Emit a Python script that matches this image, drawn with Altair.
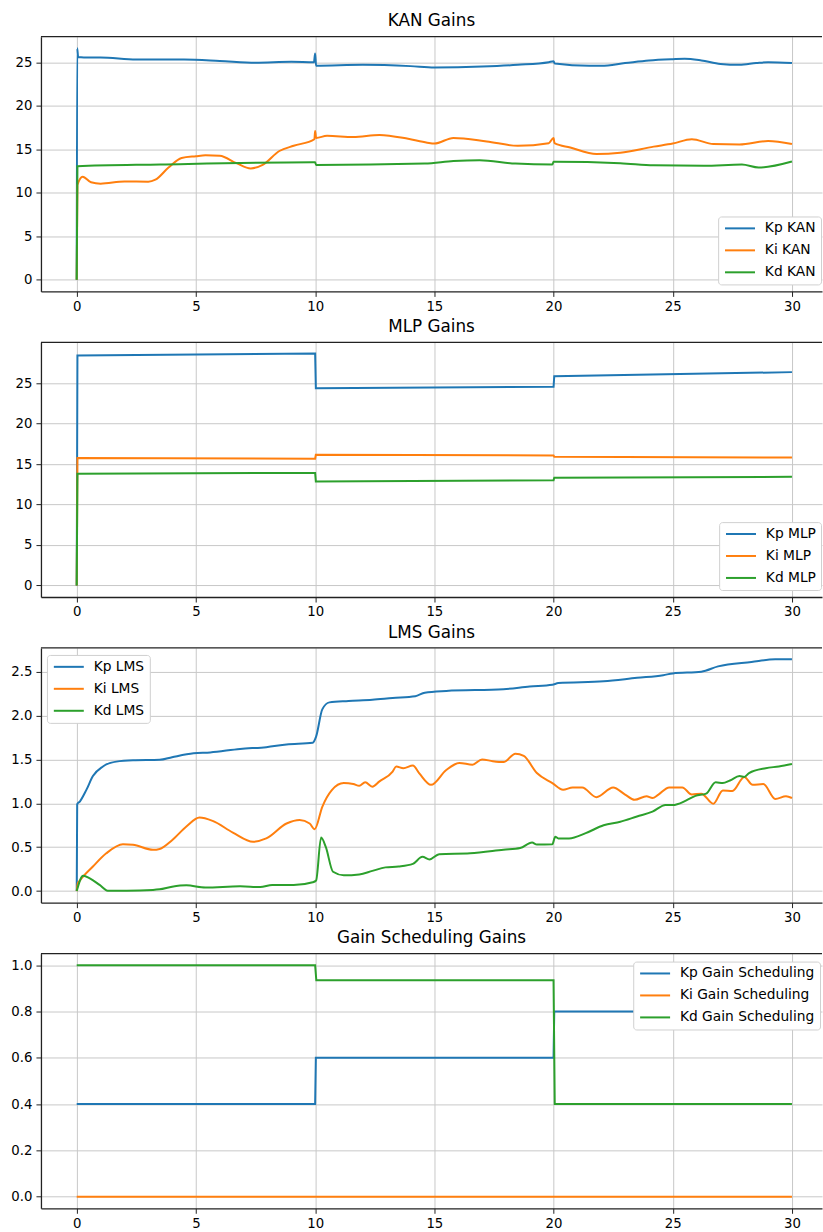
import altair as alt
import pandas as pd

# ---------------- data ----------------
X_TICKS = [0, 5, 10, 15, 20, 25, 30]

KAN_NAMES = ["Kp KAN", "Ki KAN", "Kd KAN"]
KAN_KP = [(0, 0), (0.02, 26.6), (0.06, 25.6), (0.3, 25.55), (1, 25.55), (2.5, 25.3), (4.5, 25.3),
          (6, 25.15), (7.5, 24.95), (9, 25.05), (9.95, 25.0), (10.0, 26.0), (10.04, 24.6),
          (12, 24.7), (14, 24.55), (15, 24.4), (17, 24.5), (18.5, 24.7), (19.8, 25.0), (20.0, 25.1),
          (20.05, 24.85), (21.5, 24.6), (22, 24.6), (23, 24.9), (24, 25.2), (25, 25.35), (25.5, 25.4),
          (26.2, 25.2), (27, 24.8), (27.8, 24.7), (28.5, 24.9), (29, 25.0), (30, 24.9)]
KAN_KI = [(0, 0), (0.03, 10.9), (0.25, 11.85), (0.6, 11.2), (1.0, 11.05), (2.0, 11.3), (3.0, 11.27),
          (3.3, 11.5), (3.85, 12.9), (4.4, 14.0), (5.0, 14.2), (5.4, 14.3), (6.0, 14.25), (6.7, 13.4),
          (7.3, 12.8), (7.8, 13.2), (8.5, 14.8), (9.1, 15.4), (9.97, 16.15), (10.0, 17.1), (10.04, 16.3),
          (10.5, 16.55), (11.6, 16.4), (12.7, 16.65), (13.9, 16.2), (14.7, 15.75), (15.0, 15.65),
          (15.8, 16.3), (17.2, 15.9), (18.5, 15.4), (19.8, 15.7), (20.0, 16.3), (20.04, 15.7),
          (20.7, 15.2), (21.8, 14.45), (22.8, 14.6), (24.2, 15.3), (25.0, 15.65), (25.8, 16.15),
          (26.7, 15.6), (27.8, 15.55), (29.0, 15.95), (30.0, 15.6)]
KAN_KD = [(0, 0), (0.03, 13.05), (3.5, 13.25), (9.9, 13.5), (10.0, 13.5), (10.04, 13.2), (14.6, 13.35),
          (15.8, 13.65), (16.9, 13.75), (18.4, 13.35), (19.95, 13.25), (20.0, 13.55), (20.04, 13.55),
          (22.8, 13.4), (24.2, 13.15), (26.3, 13.1), (27.9, 13.25), (28.6, 12.9), (30, 13.6)]

MLP_NAMES = ["Kp MLP", "Ki MLP", "Kd MLP"]
MLP_KP = [(0, 0), (0.03, 28.4), (10.0, 28.65), (10.03, 24.35), (20.0, 24.55), (20.03, 25.85), (30, 26.35)]
MLP_KI = [(0, 0), (0.03, 15.75), (10.0, 15.65), (10.03, 16.15), (20.0, 16.05), (20.03, 15.9), (30, 15.8)]
MLP_KD = [(0, 0), (0.03, 13.8), (10.0, 13.9), (10.03, 12.85), (20.0, 12.98), (20.03, 13.3), (30, 13.42)]

LMS_NAMES = ["Kp LMS", "Ki LMS", "Kd LMS"]
LMS_KP = [(0, 0), (0.02, 0.99), (0.13, 1.02), (0.4, 1.15), (0.68, 1.31), (1.1, 1.42), (1.66, 1.475),
          (2.36, 1.49), (3.48, 1.495), (4.0, 1.525), (4.9, 1.57), (5.6, 1.58), (6.85, 1.62), (7.95, 1.64),
          (8.8, 1.67), (9.9, 1.69), (10.04, 1.76), (10.3, 2.07), (10.6, 2.15), (11.4, 2.165), (12.4, 2.18),
          (13.25, 2.2), (14.2, 2.22), (14.6, 2.26), (15.5, 2.28), (17.9, 2.3), (19.0, 2.33), (19.95, 2.35),
          (20.2, 2.37), (22.1, 2.39), (23.5, 2.43), (24.6, 2.46), (25.0, 2.48), (26.2, 2.5), (26.9, 2.56),
          (28.3, 2.61), (29.3, 2.64), (30, 2.64)]
LMS_KI = [(0, 0.0), (0.05, 0.09), (0.13, 0.12), (0.68, 0.28), (1.24, 0.43), (1.94, 0.533), (2.36, 0.527),
          (3.2, 0.47), (3.48, 0.48), (4.0, 0.58), (4.6, 0.735), (5.15, 0.838), (5.7, 0.8), (6.55, 0.667),
          (7.4, 0.563), (7.95, 0.6), (8.8, 0.77), (9.35, 0.81), (9.77, 0.77), (9.98, 0.705), (10.3, 0.96),
          (10.7, 1.15), (11.2, 1.23), (11.6, 1.22), (11.85, 1.2), (12.1, 1.24), (12.4, 1.19), (12.7, 1.25),
          (13.25, 1.36), (13.4, 1.42), (13.7, 1.40), (14.1, 1.43), (14.37, 1.34), (14.86, 1.21),
          (15.5, 1.38), (16.05, 1.46), (16.6, 1.44), (17.0, 1.5), (17.45, 1.48), (17.9, 1.47),
          (18.4, 1.566), (18.75, 1.54), (19.3, 1.345), (19.95, 1.23), (20.4, 1.154), (20.8, 1.18),
          (21.2, 1.18), (21.8, 1.07), (22.5, 1.18), (23.0, 1.1), (23.4, 1.04), (23.9, 1.08), (24.15, 1.06),
          (24.4, 1.1), (24.85, 1.18), (25.4, 1.18), (25.8, 1.1), (26.2, 1.11), (26.7, 0.995), (27.1, 1.146),
          (27.5, 1.14), (28.0, 1.3), (28.35, 1.21), (28.8, 1.22), (29.3, 1.05), (29.75, 1.08), (30, 1.06)]
LMS_KD = [(0, 0), (0.27, 0.175), (0.55, 0.145), (0.96, 0.07), (1.3, 0.005), (2.1, 0.005), (3.2, 0.013),
          (3.48, 0.02), (4.0, 0.05), (4.6, 0.066), (5.4, 0.04), (6.85, 0.055), (7.7, 0.045), (8.2, 0.07),
          (9.1, 0.068), (9.9, 0.1), (10.04, 0.12), (10.25, 0.61), (10.45, 0.5), (10.75, 0.22), (11.2, 0.18),
          (11.85, 0.19), (12.4, 0.23), (12.95, 0.27), (13.5, 0.28), (14.1, 0.31), (14.5, 0.39), (14.8, 0.36),
          (15.2, 0.42), (16.5, 0.43), (17.9, 0.47), (18.6, 0.49), (19.1, 0.553), (19.3, 0.53),
          (19.95, 0.533), (20.07, 0.62), (20.2, 0.6), (20.65, 0.6), (21.35, 0.66), (22.1, 0.75),
          (22.8, 0.79), (23.5, 0.85), (24.15, 0.905), (24.7, 0.98), (25.0, 0.98), (25.55, 1.03),
          (25.95, 1.085), (26.4, 1.11), (26.8, 1.24), (27.1, 1.23), (27.4, 1.26), (27.8, 1.31), (28.0, 1.3),
          (28.2, 1.345), (28.9, 1.40), (29.45, 1.42), (30, 1.447)]

GS_NAMES = ["Kp Gain Scheduling", "Ki Gain Scheduling", "Kd Gain Scheduling"]
GS_KP = [(0, 0.4), (10, 0.4), (10.03, 0.6), (20, 0.6), (20.03, 0.8), (30, 0.8)]
GS_KI = [(0, 0.0), (30, 0.0)]
GS_KD = [(0, 1.0), (10, 1.0), (10.05, 0.935), (20, 0.935), (20.05, 0.4), (30, 0.4)]

COLORS = ["#1f77b4", "#ff7f0e", "#2ca02c"]

# ---------------- layout ----------------
W, H = 782, 255
XDOM = [-1.5, 31.26]
FONT = "DejaVu Sans"


def make_df(names, series):
    rows = []
    for name, pairs in zip(names, series):
        for i, (t, v) in enumerate(pairs):
            rows.append({"t": t, "v": v, "s": name, "i": i})
    return pd.DataFrame(rows)


def panel(title, names, series, ydom, yticks, yfmt, lx, ly, interp):
    df = make_df(names, series)
    lines = alt.Chart(df).mark_line(strokeWidth=2, clip=True, interpolate=interp).encode(
        x=alt.X("t:Q", scale=alt.Scale(domain=XDOM, nice=False, zero=False),
                axis=alt.Axis(values=X_TICKS, format="d", title=None)),
        y=alt.Y("v:Q", scale=alt.Scale(domain=ydom, nice=False, zero=False),
                axis=alt.Axis(values=yticks, format=yfmt, title=None)),
        color=alt.Color("s:N", scale=alt.Scale(domain=names, range=COLORS),
                        legend=alt.Legend(title=None, orient="none", legendX=lx, legendY=ly)),
        order=alt.Order("i:Q"),
    )
    frame = alt.Chart(pd.DataFrame({"k": [0]})).mark_rule(color="#222222", strokeWidth=1.3).encode(
        x=alt.value(0), x2=alt.value(W), y=alt.value(0))
    return alt.layer(lines, frame).properties(
        width=W, height=H,
        title=alt.TitleParams(title, fontSize=16.8, fontWeight="normal", font=FONT,
                              color="black", offset=6, anchor="middle"))


p1 = panel("KAN Gains", KAN_NAMES, [KAN_KP, KAN_KI, KAN_KD], [-1.33, 27.93],
           [0, 5, 10, 15, 20, 25], "d", 678, 180, "monotone")
p2 = panel("MLP Gains", MLP_NAMES, [MLP_KP, MLP_KI, MLP_KD], [-1.43, 30.03],
           [0, 5, 10, 15, 20, 25], "d", 679, 180, "linear")
p3 = panel("LMS Gains", LMS_NAMES, [LMS_KP, LMS_KI, LMS_KD], [-0.132, 2.77],
           [0, 0.5, 1.0, 1.5, 2.0, 2.5], ".1f", 6, 7, "monotone")
p4 = panel("Gain Scheduling Gains", GS_NAMES, [GS_KP, GS_KI, GS_KD], [-0.05, 1.05],
           [0, 0.2, 0.4, 0.6, 0.8, 1.0], ".1f", 593, 8, "linear")

chart = alt.vconcat(p1, p2, p3, p4, spacing=5).resolve_scale(
    color="independent").resolve_legend(color="independent").properties(
    padding={"left": 5, "top": 12, "right": 0, "bottom": 0}
).configure(font=FONT).configure_view(stroke=None).configure_axis(
    labelFont=FONT, labelFontSize=13.3, labelColor="black",
    tickColor="#222222", tickSize=5, tickWidth=1,
    domainColor="#222222", domainWidth=1.3,
    gridColor="#c8c8c8", gridWidth=1,
    labelPadding=3,
).configure_axisY(minExtent=36, maxExtent=36, labelPadding=4).configure_legend(
    symbolType="M-1,0H5", symbolStrokeWidth=2, symbolSize=100,
    symbolFillColor="transparent",
    labelFont=FONT, labelFontSize=13.8, labelColor="black", labelOffset=28,
    rowPadding=7, padding=5, strokeColor="#d0d0d0", fillColor="white",
    cornerRadius=3,
)

chart.save("out.html", embed_options={"renderer": "svg", "actions": False})
